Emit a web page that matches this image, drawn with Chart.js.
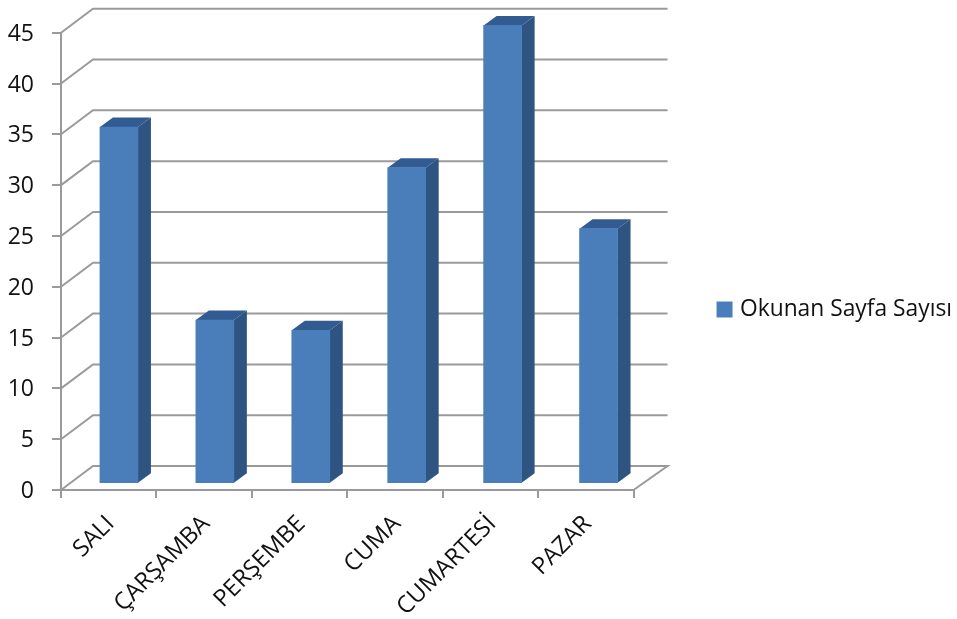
<!DOCTYPE html>
<html>
<head>
<meta charset="utf-8">
<title>Okunan Sayfa Sayısı</title>
<script src="https://cdn.jsdelivr.net/npm/chart.js@4"></script>
<style>
    html, body { margin: 0; padding: 0; background: #fff; }
    canvas { display: block; }
</style>
</head>
<body>
<canvas id="chart" width="957" height="619"></canvas>
<script>
// Data
const days = ['SALI', 'ÇARŞAMBA', 'PERŞEMBE', 'CUMA', 'CUMARTESİ', 'PAZAR'];
const pages = [35, 16, 15, 31, 45, 25];
const seriesName = 'Okunan Sayfa Sayısı';

const gridColor = '#9a9a9a';
const textColor = '#111';
const fontFamily = '"Open Sans", sans-serif';

// Draws the 3D look: walls and floor behind the bars, side and top of each bar
const box3d = {
    id: 'box3d',
    beforeDatasetsDraw(chart) {
        const ctx = chart.ctx;
        const y = chart.scales.y;
        const left = chart.chartArea.left;
        const right = chart.chartArea.right;
        ctx.save();
        ctx.strokeStyle = gridColor;
        ctx.lineWidth = 2;
        y.ticks.forEach(t => {
            const p = y.getPixelForValue(t.value);
            ctx.beginPath();
            ctx.moveTo(left, p);
            ctx.lineTo(left + 32, p - 24);
            ctx.lineTo(right + 34, p - 24);
            if (t.value === 0) ctx.lineTo(right, p);
            ctx.stroke();
        });
        // bar sides and tops
        chart.getDatasetMeta(0).data.forEach(bar => {
            const b = bar.getProps(['x', 'y', 'base', 'width'], true);
            const l = b.x - b.width / 2;
            const r = b.x + b.width / 2;
            ctx.fillStyle = '#2f5482';
            ctx.beginPath();
            ctx.moveTo(r, b.y);
            ctx.lineTo(r + 13, b.y - 9.5);
            ctx.lineTo(r + 13, b.base - 9.5);
            ctx.lineTo(r, b.base);
            ctx.closePath();
            ctx.fill();
            ctx.fillStyle = '#315b91';
            ctx.beginPath();
            ctx.moveTo(l, b.y);
            ctx.lineTo(l + 13, b.y - 9.5);
            ctx.lineTo(r + 13, b.y - 9.5);
            ctx.lineTo(r, b.y);
            ctx.closePath();
            ctx.fill();
        });
        ctx.restore();
    }
};

new Chart(document.getElementById('chart').getContext('2d'), {
    type: 'bar',
    data: {
        datasets: [{
            label: seriesName,
            data: pages.map((v, i) => ({ x: i, y: v })),
            backgroundColor: '#4a7ebb',
            barThickness: 38,
            xAxisID: 'x2',
            yAxisID: 'y2',
            clip: false
        }]
    },
    options: {
        responsive: false,
        animation: false,
        layout: { padding: { top: 0, left: 0, right: -5, bottom: 0 } },
        plugins: {
            tooltip: { enabled: false },
            legend: {
                position: 'right',
                maxWidth: 320,
                labels: {
                    color: textColor,
                    font: { family: fontFamily, size: 22.8 },
                    boxWidth: 8,
                    boxHeight: 8,
                    padding: 4.5,
                    generateLabels(chart) {
                        // thick border of the same colour: bigger swatch, closer to the text
                        return Chart.defaults.plugins.legend.labels.generateLabels(chart).map(item => {
                            item.lineWidth = 8;
                            item.strokeStyle = item.fillStyle;
                            return item;
                        });
                    }
                }
            }
        },
        scales: {
            x: {
                type: 'category',
                labels: days,
                offset: true,
                grid: { offset: true, drawOnChartArea: false, color: gridColor, lineWidth: 2, tickLength: 8 },
                border: { color: gridColor, width: 2 },
                ticks: {
                    color: textColor,
                    font: { family: fontFamily, size: 23.7 },
                    minRotation: 45,
                    maxRotation: 45,
                    autoSkip: false,
                    padding: 12,
                    labelOffset: 2
                },
                afterFit(s) { s.height = 129; }
            },
            y: {
                min: 0,
                max: 45,
                ticks: {
                    stepSize: 5,
                    color: textColor,
                    font: { family: fontFamily, size: 23 },
                    padding: 18,
                    labelOffset: 1.5
                },
                grid: { drawOnChartArea: false, color: gridColor, lineWidth: 2, tickLength: 9 },
                border: { color: gridColor, width: 2 },
                afterFit(s) { s.width = 61; }
            },
            // bars sit a little inside the box, so they get their own scales with nothing drawn;
            // their fixed sizes also hold the plot away from the top and from the legend
            x2: {
                type: 'linear',
                position: 'top',
                offset: false,
                min: -0.604,
                max: 5.365,
                ticks: { display: false },
                grid: { display: false },
                border: { display: false },
                afterFit(s) { s.height = 32.7; }
            },
            y2: {
                position: 'right',
                min: -0.72,
                max: 44.28,
                ticks: { display: false },
                grid: { display: false },
                border: { display: false },
                afterFit(s) { s.width = 82.5; }
            }
        }
    },
    plugins: [box3d]
});
</script>
</body>
</html>
